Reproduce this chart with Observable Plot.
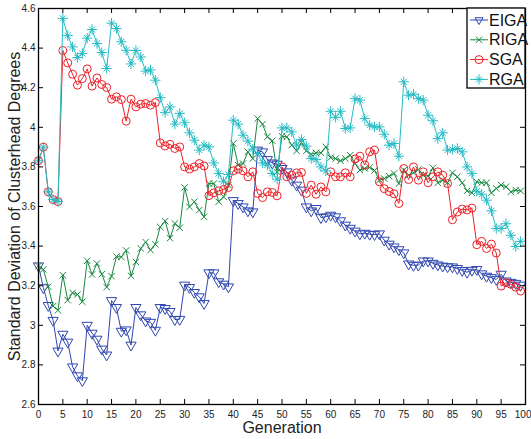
<!DOCTYPE html>
<html><head><meta charset="utf-8">
<script src="https://cdn.jsdelivr.net/npm/d3@7"></script>
<script src="https://cdn.jsdelivr.net/npm/@observablehq/plot@0.6"></script>
<style>html,body{margin:0;padding:0;background:#fff;}</style>
</head><body><div id="chart"></div>
<script>
const seriesNames = ["EIGA", "RIGA", "SGA", "RGA"];
const seriesColors = ["#2f47b0", "#17873f", "#ee2027", "#26bcc6"];

const EIGA = [3.30,3.19,3.10,3.025,2.87,2.955,2.915,2.79,2.745,2.72,
  3.0,2.96,2.93,2.88,2.85,3.125,3.09,2.97,2.977,2.90,
  3.09,3.053,3.022,3.015,2.975,3.09,3.085,3.07,3.029,3.03,
  3.203,3.191,3.166,3.144,3.11,3.265,3.265,3.22,3.208,3.194,
  3.63,3.615,3.598,3.578,3.573,3.885,3.876,3.837,3.82,3.814,
  3.792,3.775,3.733,3.708,3.683,3.598,3.578,3.59,3.544,3.548,
  3.556,3.548,3.528,3.506,3.49,3.476,3.462,3.465,3.46,3.458,
  3.462,3.43,3.41,3.396,3.382,3.366,3.31,3.303,3.304,3.325,
  3.325,3.313,3.305,3.299,3.296,3.295,3.287,3.277,3.268,3.278,
  3.282,3.26,3.248,3.241,3.232,3.258,3.224,3.217,3.212,3.203];
const RIGA = [3.30,3.282,3.195,3.097,3.076,3.253,3.127,3.164,3.156,3.119,
  3.326,3.257,3.312,3.258,3.193,3.248,3.347,3.345,3.378,3.25,
  3.32,3.388,3.42,3.38,3.409,3.497,3.526,3.44,3.514,3.493,
  3.696,3.598,3.624,3.582,3.548,3.716,3.716,3.624,3.649,3.708,
  3.918,3.809,3.817,3.876,3.842,4.044,4.016,3.952,3.932,3.775,
  3.955,3.952,3.91,3.881,3.922,3.881,3.864,3.871,3.871,3.901,
  3.847,3.842,3.831,3.842,3.859,3.817,3.784,3.792,3.797,3.782,
  3.733,3.741,3.753,3.767,3.716,3.784,3.758,3.77,3.787,3.758,
  3.753,3.795,3.72,3.733,3.72,3.77,3.75,3.72,3.679,3.669,
  3.725,3.72,3.72,3.669,3.691,3.708,3.70,3.674,3.683,3.679];
const SGA = [3.831,3.90,3.674,3.635,3.625,4.388,4.325,4.268,4.213,4.246,
  4.295,4.208,4.249,4.216,4.201,4.142,4.154,4.14,4.031,4.142,
  4.103,4.117,4.12,4.112,4.125,3.921,3.906,3.914,3.893,3.901,
  3.80,3.789,3.80,3.817,3.805,3.655,3.669,3.679,3.686,3.696,
  3.78,3.789,3.78,3.75,3.775,3.666,3.645,3.674,3.671,3.654,
  3.80,3.75,3.758,3.77,3.772,3.666,3.708,3.662,3.699,3.674,
  3.775,3.75,3.75,3.77,3.75,3.84,3.854,3.81,3.876,3.885,
  3.725,3.69,3.676,3.664,3.615,3.792,3.736,3.80,3.733,3.775,
  3.72,3.75,3.775,3.758,3.716,3.533,3.572,3.587,3.583,3.592,
  3.407,3.424,3.388,3.41,3.365,3.198,3.215,3.207,3.193,3.173];
const RGA = [3.831,3.90,3.674,3.635,3.625,4.55,4.463,4.406,4.352,4.373,
  4.45,4.494,4.423,4.378,4.297,4.526,4.499,4.432,4.389,4.32,
  4.388,4.355,4.284,4.29,4.238,4.15,4.074,4.103,4.016,4.07,
  4.023,3.972,3.935,3.885,3.91,3.901,3.82,3.767,3.725,3.762,
  4.036,4.016,3.96,3.93,3.89,3.868,3.82,3.809,3.767,3.738,
  3.997,3.997,3.977,3.91,3.938,3.905,3.842,3.837,3.80,3.78,
  4.081,4.05,4.081,3.994,3.997,4.145,4.137,4.044,4.011,4.002,
  4.002,3.965,3.91,3.918,3.854,4.23,4.162,4.167,4.145,4.137,
  4.061,4.033,3.943,3.972,3.885,3.888,3.893,3.876,3.80,3.767,
  3.677,3.662,3.632,3.578,3.489,3.489,3.513,3.455,3.398,3.424];

const xTicks = [0,5,10,15,20,25,30,35,40,45,50,55,60,65,70,75,80,85,90,95,100];
const yTicks = [2.6,2.8,3.0,3.2,3.4,3.6,3.8,4.0,4.2,4.4,4.6];
const xLabel = "Generation";
const yLabel = "Standard Deviation of Clusterhead Degrees";

const seriesValues = [EIGA, RIGA, SGA, RGA];
const seriesSymbols = [
  [{symbol: "triangle", r: 3.8, rotate: 180}],
  [{symbol: "times", r: 3}],
  [{symbol: "circle", r: 4}],
  [{symbol: "plus", r: 3.4}, {symbol: "times", r: 2.9}]
];
const rows = seriesNames.flatMap((name, s) =>
  seriesValues[s].map((v, i) => ({gen: i, value: v, series: name})));

const font = '"Liberation Sans Narrow","Liberation Sans",Arial,sans-serif';
const xDom = [xTicks[0], xTicks[xTicks.length - 1]];
const yDom = [yTicks[0], yTicks[yTicks.length - 1]];

const marks = [];
seriesNames.forEach((name, s) => {
  const data = rows.filter(d => d.series === name);
  marks.push(Plot.line(data, {x: "gen", y: "value", stroke: seriesColors[s], strokeWidth: 1}));
  seriesSymbols[s].forEach(sym => {
    marks.push(Plot.dot(data, {x: "gen", y: "value", stroke: seriesColors[s], fill: "none",
      strokeWidth: 1, symbol: sym.symbol, r: sym.r, rotate: sym.rotate || 0}));
  });
});

const lastTick = xTicks.slice(-1);
const chart = Plot.plot({
  width: 531, height: 439,
  marginLeft: 38, marginRight: 6, marginTop: 8, marginBottom: 35,
  style: {fontFamily: font, fontSize: "10px", background: "#fff", color: "#222"},
  x: {domain: xDom},
  y: {domain: yDom},
  marks: [
    ...marks,
    Plot.ruleX(xTicks, {x: d => d, y1: yDom[0], y2: yDom[0], insetTop: -5, stroke: "#000"}),
    Plot.ruleX(xTicks, {x: d => d, y1: yDom[1], y2: yDom[1], insetBottom: -5, stroke: "#000"}),
    Plot.ruleY(yTicks, {y: d => d, x1: xDom[0], x2: xDom[0], insetRight: -5, stroke: "#000"}),
    Plot.ruleY(yTicks, {y: d => d, x1: xDom[1], x2: xDom[1], insetLeft: -5, stroke: "#000"}),
    Plot.frame({stroke: "#000", strokeWidth: 1.3}),
    Plot.axisX(xTicks.slice(0, -1), {tickSize: 0, tickPadding: 6, label: null, fontSize: 10}),
    Plot.axisX(lastTick, {tickSize: 0, tickPadding: 6, label: null, fontSize: 10,
      textAnchor: "end", dx: 6}),
    Plot.axisY(yTicks, {tickSize: 0, tickPadding: 3, label: null, fontSize: 10,
      tickFormat: d => String(+d.toFixed(1))}),
    Plot.text([xLabel], {frameAnchor: "bottom", dy: 23, text: d => d, fontSize: 16,
      textAnchor: "middle", lineAnchor: "middle", fill: "#222"}),
    Plot.text([yLabel], {frameAnchor: "left", dx: -24, rotate: -90, text: d => d, fontSize: 16,
      textAnchor: "middle", lineAnchor: "middle", fill: "#222"})
  ]
});

// Legend (top-right, inside the frame)
const lg = d3.select(chart).append("g").attr("class", "legend")
  .attr("font-family", font).attr("text-anchor", "start");
const bx = 467, by = 8, bw = 58, bh = 80, rowH = 19.8;
lg.append("rect").attr("x", bx).attr("y", by).attr("width", bw).attr("height", bh)
  .attr("fill", "#fff").attr("stroke", "#000").attr("stroke-width", 1.3);
const symMap = {triangle: d3.symbolTriangle2, times: d3.symbolTimes, circle: d3.symbolCircle, plus: d3.symbolPlus};
seriesNames.forEach((name, s) => {
  const cy = by + 12 + s * rowH;
  lg.append("line").attr("x1", bx + 3).attr("x2", bx + 21).attr("y1", cy).attr("y2", cy)
    .attr("stroke", seriesColors[s]).attr("stroke-width", 1);
  seriesSymbols[s].forEach(sym => {
    lg.append("path").attr("d", d3.symbol(symMap[sym.symbol], Math.PI * sym.r * sym.r)())
      .attr("transform", `translate(${bx + 12},${cy}) rotate(${sym.rotate || 0})`)
      .attr("fill", "none").attr("stroke", seriesColors[s]).attr("stroke-width", 1);
  });
  lg.append("text").attr("x", bx + 22).attr("y", cy).attr("dy", "0.35em")
    .attr("text-anchor", "start").attr("font-size", 16).attr("fill", "#111").text(name);
});

document.getElementById("chart").appendChild(chart);
</script>
</body></html>
